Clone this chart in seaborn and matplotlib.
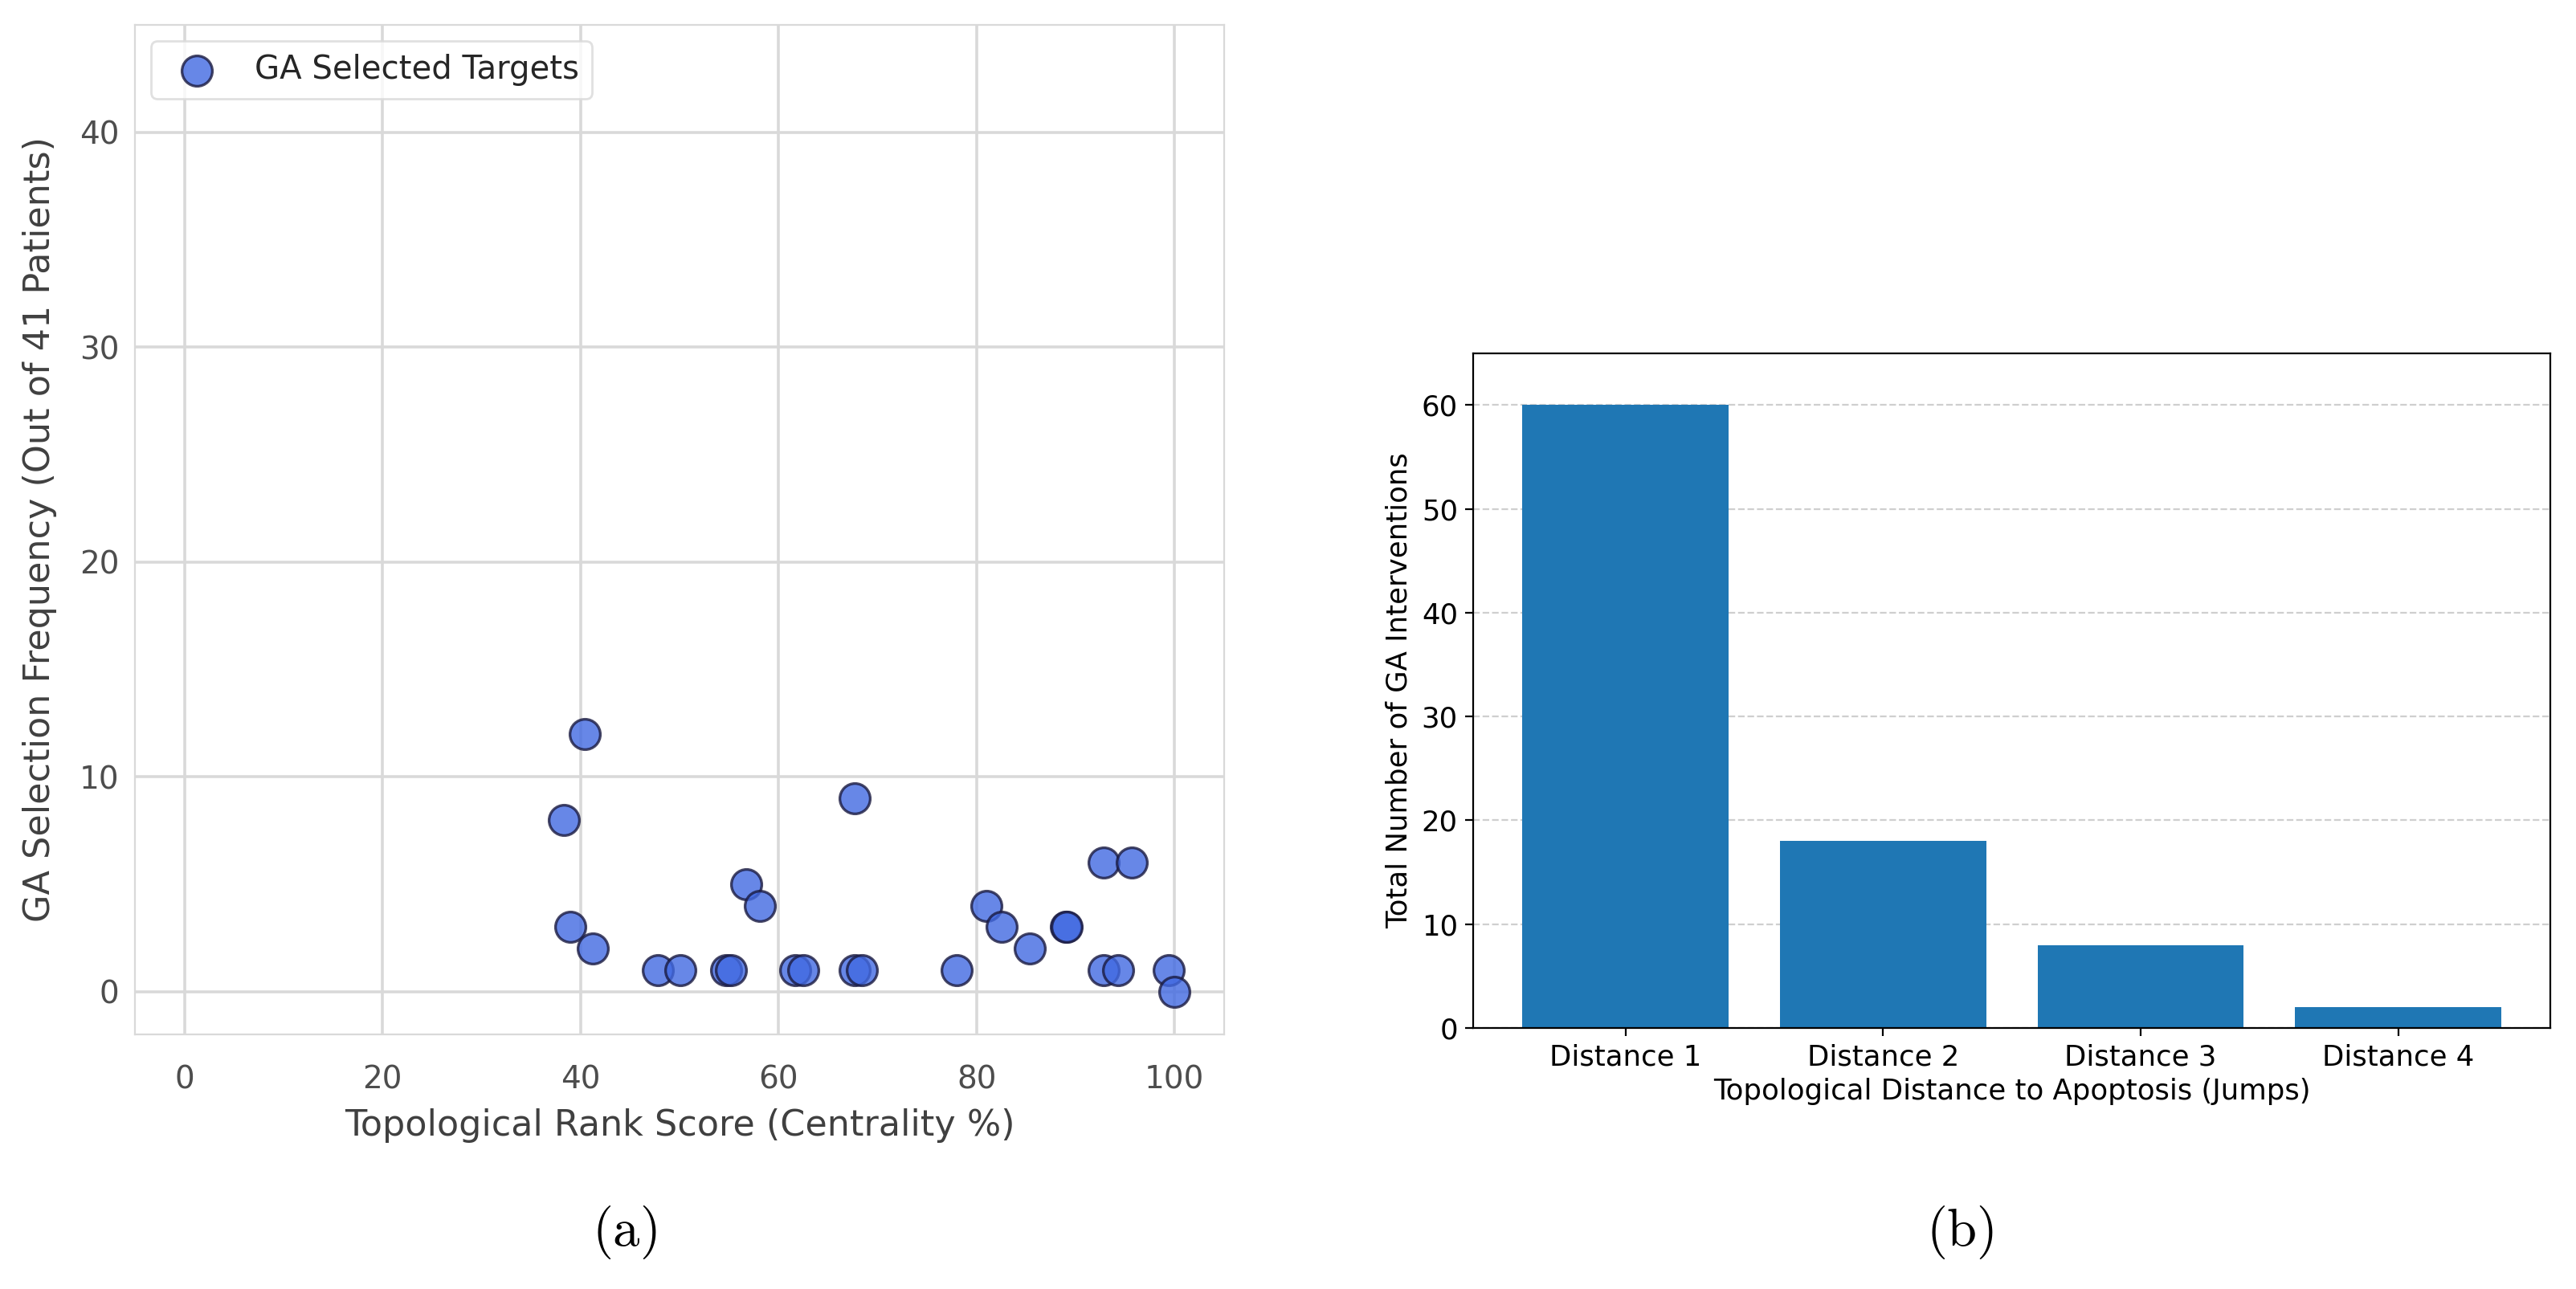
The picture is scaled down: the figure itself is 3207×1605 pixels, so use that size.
import matplotlib
matplotlib.use("Agg")
import matplotlib.pyplot as plt
import seaborn as sns
import pandas as pd

# (a) GA selected targets: centrality rank vs selection frequency
rank_score = [38.3, 40.4, 39.0, 41.2, 47.8, 50.1, 54.7, 55.2, 56.7, 58.1,
              61.7, 62.5, 67.7, 67.7, 68.4, 78.0, 81.0, 82.5, 85.4, 89.0,
              89.1, 92.8, 95.7, 92.8, 94.3, 99.4, 100.0]
sel_freq = [8, 12, 3, 2, 1, 1, 1, 1, 5, 4,
            1, 1, 9, 1, 1, 1, 4, 3, 2, 3,
            3, 6, 6, 1, 1, 1, 0]

# (b) interventions per topological distance
distances = ["Distance 1", "Distance 2", "Distance 3", "Distance 4"]
interventions = [60, 18, 8, 2]

df_a = pd.DataFrame({"rank": rank_score, "freq": sel_freq})
df_b = pd.DataFrame({"dist": distances, "n": interventions})

plt.rcParams["mathtext.fontset"] = "cm"
fig = plt.figure(figsize=(16.035, 8.025), dpi=200)

with sns.axes_style("whitegrid"):
    ax1 = fig.add_axes([0.0524, 0.1975, 0.4228, 0.7832])
    sns.scatterplot(data=df_a, x="rank", y="freq", ax=ax1, s=185,
                    color="royalblue", alpha=0.8, edgecolor="#1a1a40",
                    linewidth=1.2, label="GA Selected Targets")
    ax1.set_xlim(-5, 105)
    ax1.set_ylim(-2, 45)
    ax1.set_xticks([0, 20, 40, 60, 80, 100])
    ax1.set_yticks([0, 10, 20, 30, 40])
    ax1.set_xlabel("Topological Rank Score (Centrality %)", fontsize=16,
                   color=".25", labelpad=6)
    ax1.set_ylabel("GA Selection Frequency (Out of 41 Patients)", fontsize=16,
                   color=".25", labelpad=10)
    ax1.tick_params(labelsize=14, colors=".3")
    ax1.tick_params(axis="x", pad=10)
    ax1.grid(True, color=".85", linewidth=1.3)
    for sp in ax1.spines.values():
        sp.set_color(".85")
    ax1.legend(loc="upper left", fontsize=14.5, markerscale=1.0,
               frameon=True, edgecolor=".85")

ax2 = fig.add_axes([0.572, 0.2025, 0.418, 0.5235])
sns.barplot(data=df_b, x="dist", y="n", ax=ax2, color="#1f77b4",
            saturation=1, width=0.8, linewidth=0)
ax2.set_xlim(-0.59, 3.59)
ax2.set_ylim(0, 65)
ax2.set_yticks([0, 10, 20, 30, 40, 50, 60])
ax2.yaxis.grid(True, linestyle="--", alpha=0.6)
ax2.set_axisbelow(True)
ax2.set_xlabel("Topological Distance to Apoptosis (Jumps)", fontsize=12.8, labelpad=3)
ax2.set_ylabel("Total Number of GA Interventions", fontsize=12.8)
ax2.tick_params(labelsize=12.8)

fig.text(0.2423, 0.044, r"$\mathrm{(a)}$", fontsize=24, ha="center", va="center")
fig.text(0.7608, 0.044, r"$\mathrm{(b)}$", fontsize=24, ha="center", va="center")

fig.savefig("out.png", dpi=200)
